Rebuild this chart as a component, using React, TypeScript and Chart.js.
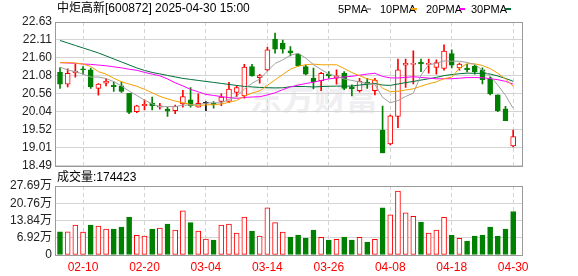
import React, { useEffect, useRef } from "react";
import { Chart, registerables } from "chart.js";

Chart.register(...registerables);

// ---------------- data ----------------
const dates = [
  "02-05", "02-06", "02-07", "02-10", "02-11", "02-12", "02-13", "02-14", "02-17", "02-18",
  "02-19", "02-20", "02-21", "02-24", "02-25", "02-26", "02-27", "02-28", "03-03", "03-04",
  "03-05", "03-06", "03-07", "03-10", "03-11", "03-12", "03-13", "03-14", "03-17", "03-18",
  "03-19", "03-20", "03-21", "03-24", "03-25", "03-26", "03-27", "03-28", "03-31", "04-01",
  "04-02", "04-03", "04-07", "04-08", "04-09", "04-10", "04-11", "04-14", "04-15", "04-16",
  "04-17", "04-18", "04-21", "04-22", "04-23", "04-24", "04-25", "04-28", "04-29", "04-30",
];

const openPrices = [
  21.18, 20.84, 21.17, 21.27, 21.25, 20.72, 20.87, 20.81, 20.79, 20.58,
  20.05, 20.22, 20.29, 20.18, 20.12, 20.08, 20.27, 20.39, 20.18, 20.29,
  20.29, 20.34, 20.34, 20.60, 20.50, 21.35, 21.03, 21.25, 22.14, 22.02,
  21.80, 21.70, 21.35, 21.01, 20.94, 21.13, 21.01, 21.16, 20.76, 20.65,
  20.90, 20.65, 19.52, 19.12, 19.91, 21.39, 21.41, 21.47, 21.41, 21.32,
  21.29, 21.72, 21.31, 21.30, 21.36, 21.25, 21.00, 20.53, 20.13, 19.06,
];
const highPrices = [
  21.32, 21.28, 21.41, 21.35, 21.30, 20.86, 21.01, 20.91, 20.91, 20.58,
  20.23, 20.39, 20.47, 20.29, 20.18, 20.24, 20.66, 20.74, 20.56, 20.34,
  20.34, 20.56, 20.89, 20.79, 21.41, 21.41, 21.12, 21.90, 22.31, 22.11,
  21.92, 21.73, 21.39, 21.30, 21.18, 21.20, 21.25, 21.20, 20.82, 21.01,
  21.01, 21.01, 20.21, 19.95, 21.56, 21.56, 21.80, 21.56, 21.56, 21.54,
  21.97, 21.83, 21.45, 21.41, 21.39, 21.31, 21.05, 20.53, 20.20, 19.52,
];
const lowPrices = [
  20.72, 20.76, 21.04, 21.13, 20.72, 20.52, 20.79, 20.63, 20.60, 19.99,
  20.02, 20.10, 20.10, 20.12, 19.91, 19.99, 20.18, 20.18, 20.18, 20.08,
  20.15, 20.22, 20.31, 20.47, 20.44, 21.07, 20.87, 21.22, 21.73, 21.73,
  21.65, 21.35, 21.11, 20.70, 20.65, 21.01, 20.84, 20.68, 20.50, 20.61,
  20.72, 20.53, 18.86, 19.09, 19.59, 20.75, 20.85, 21.20, 21.16, 21.13,
  21.24, 21.31, 21.24, 21.19, 21.13, 20.85, 20.53, 20.05, 19.79, 19.03,
];
const closePrices = [
  20.84, 21.15, 21.22, 21.25, 20.77, 20.84, 20.93, 20.77, 20.63, 20.03,
  20.22, 20.26, 20.22, 20.22, 20.06, 20.20, 20.48, 20.22, 20.29, 20.29,
  20.25, 20.47, 20.70, 20.74, 21.33, 21.08, 21.09, 21.83, 21.85, 21.85,
  21.75, 21.37, 21.13, 20.91, 21.15, 21.08, 21.08, 20.72, 20.71, 20.93,
  20.85, 20.96, 18.86, 19.93, 21.25, 21.44, 21.44, 21.42, 21.44, 21.46,
  21.79, 21.39, 21.42, 21.26, 21.19, 20.97, 20.56, 20.08, 19.79, 19.33,
];

const ma5 = [
  21.33, 21.25, 21.2, 21.13, 21.046, 21.046, 21.002, 20.912, 20.788, 20.64,
  20.516, 20.382, 20.272, 20.19, 20.196, 20.192, 20.236, 20.236, 20.25, 20.296,
  20.306, 20.304, 20.4, 20.49, 20.698, 20.864, 20.988, 21.214, 21.436, 21.54,
  21.674, 21.73, 21.59, 21.402, 21.262, 21.128, 21.07, 20.988, 20.948, 20.904,
  20.858, 20.834, 20.46, 20.304, 20.368, 20.486, 20.582, 21.096, 21.398, 21.44,
  21.51, 21.5, 21.5, 21.464, 21.41, 21.246, 21.08, 20.812, 20.518, 20.146,
];
const ma10 = [
  21.46, 21.46, 21.45, 21.42, 21.35, 21.2, 21.13, 21.01, 20.91, 20.843,
  20.781, 20.692, 20.592, 20.489, 20.418, 20.354, 20.309, 20.254, 20.22, 20.246,
  20.249, 20.27, 20.318, 20.37, 20.497, 20.585, 20.646, 20.807, 20.963, 21.119,
  21.271, 21.357, 21.4, 21.417, 21.399, 21.397, 21.4, 21.289, 21.175, 21.083,
  20.993, 20.952, 20.724, 20.626, 20.636, 20.672, 20.708, 20.779, 20.852, 20.905,
  20.999, 21.042, 21.298, 21.431, 21.425, 21.378, 21.29, 21.156, 20.991, 20.778,
];
const ma20 = [
  21.46, 21.45, 21.44, 21.42, 21.41, 21.39, 21.37, 21.34, 21.31, 21.27,
  21.24, 21.18, 21.13, 21.08, 20.99, 20.88, 20.79, 20.69, 20.62, 20.545,
  20.515, 20.481, 20.455, 20.43, 20.458, 20.47, 20.479, 20.531, 20.591, 20.683,
  20.76, 20.814, 20.859, 20.894, 20.948, 20.992, 21.022, 21.047, 21.068, 21.1,
  21.13, 21.155, 21.063, 21.022, 21.018, 21.035, 21.055, 21.034, 21.014, 20.994,
  20.996, 20.997, 21.012, 21.029, 21.031, 21.026, 21.0, 20.968, 20.922, 20.842,
];
const ma30 = [
  22.098, 22.026, 21.954, 21.883, 21.811, 21.739, 21.653, 21.566, 21.48, 21.394,
  21.308, 21.236, 21.178, 21.135, 21.092, 21.049, 21.006, 20.977, 20.948, 20.919,
  20.891, 20.862, 20.833, 20.804, 20.776, 20.761, 20.747, 20.738, 20.733, 20.736,
  20.767, 20.773, 20.77, 20.759, 20.771, 20.779, 20.784, 20.783, 20.785, 20.815,
  20.836, 20.86, 20.814, 20.805, 20.844, 20.886, 20.918, 20.958, 20.996, 21.035,
  21.086, 21.117, 21.141, 21.158, 21.154, 21.149, 21.133, 21.075, 21.006, 20.922,
];

// volume in lots (手)
const volumes = [
  93000, 93000, 120000, 92000, 120000, 116000, 104000, 104000, 112000, 152000,
  79000, 76000, 104000, 108000, 124000, 100000, 177000, 130000, 96000, 64000,
  60000, 120000, 124000, 88000, 152000, 96000, 76000, 189000, 130000, 92000,
  72000, 80000, 68000, 100000, 71000, 60000, 63000, 72000, 60000, 71000,
  52000, 63000, 189000, 161000, 257000, 169000, 155000, 132000, 88000, 100000,
  151000, 80000, 67000, 56000, 76000, 80000, 112000, 76000, 104000, 174423,
];
// volume bar direction as drawn: "u" = red hollow, "d" = green filled
const volumeDir = [
  "d", "u", "u", "u", "d", "u", "u", "d", "d", "d",
  "u", "u", "d", "u", "d", "u", "u", "d", "u", "u",
  "d", "u", "u", "u", "u", "d", "u", "u", "u", "u",
  "d", "d", "d", "d", "u", "d", "u", "d", "d", "u",
  "d", "u", "d", "u", "u", "u", "u", "d", "u", "u",
  "u", "d", "u", "d", "d", "d", "d", "d", "d", "d",
];

const xTickLabels = ["02-10", "02-20", "03-04", "03-14", "03-26", "04-08", "04-18", "04-30"];
const priceTickLabels = ["18.49", "19.01", "19.52", "20.04", "20.56", "21.08", "21.60", "22.11", "22.63"];
const volumeTickLabels = ["0", "6.92万", "13.84万", "20.76万", "27.69万"];

const titleText = "中炬高新[600872] 2025-04-30 15:00";
const volumeTitle = "成交量:174423";
const legendItems = ["5PMA", "10PMA", "20PMA", "30PMA"];

// ---------------- styles ----------------
const RED = "#ff0000";
const GREEN = "#008000";
const BLACK = "#000000";
const MA_COLORS = ["#a0a0a0", "#f5a000", "#ff00ff", "#00703a"];
const GRID = "#d4d4d4";
const FRAME = "#9a9a9a";
const FONT = "'Liberation Sans', 'Noto Sans CJK SC', sans-serif";

const PRICE_MIN = 18.49;
const PRICE_MAX = 22.63;
const PRICE_STEP = (PRICE_MAX - PRICE_MIN) / (priceTickLabels.length - 1);
const VOL_MAX = 276900;
const VOL_STEP = VOL_MAX / (volumeTickLabels.length - 1);

const idx = dates.map((_, i) => i);
const xTickIdx = xTickLabels.map((l) => dates.indexOf(l));

function candleColor(i: number) {
  if (closePrices[i] > openPrices[i]) return RED;
  if (closePrices[i] < openPrices[i]) return GREEN;
  return BLACK;
}

const framePlugin = {
  id: "frame",
  beforeDatasetsDraw(chart: any) {
    const { ctx, chartArea: a } = chart;
    ctx.save();
    ctx.strokeStyle = FRAME;
    ctx.lineWidth = 1;
    ctx.strokeRect(Math.round(a.left) + 0.5, Math.round(a.top) + 0.5, Math.round(a.right - a.left), Math.round(a.bottom - a.top));
    ctx.restore();
  },
};

function xScale(showLabels: boolean) {
  return {
    type: "linear",
    min: -0.65,
    max: 60.15,
    offset: false,
    afterBuildTicks: (s: any) => {
      s.ticks = xTickIdx.map((v) => ({ value: v }));
    },
    afterFit: (s: any) => {
      s.height = showLabels ? 21 : 0;
    },
    ticks: {
      display: showLabels,
      autoSkip: false,
      maxRotation: 0,
      padding: 5,
      color: RED,
      font: { family: FONT, size: 12 },
      callback: (v: any) => dates[v] ?? "",
    },
    grid: { color: GRID, drawTicks: false, offset: false, lineWidth: 1 },
    border: { display: false, dash: [4, 3] },
  };
}

function yScale(min: number, max: number, step: number, labels: string[]) {
  return {
    type: "linear",
    min,
    max,
    afterBuildTicks: (s: any) => {
      s.ticks = labels.map((_, k) => ({ value: min + k * step }));
    },
    afterFit: (s: any) => {
      s.width = 55;
    },
    ticks: {
      autoSkip: false,
      padding: 3,
      color: "#222",
      font: { family: FONT, size: 12 },
      callback: (_v: any, i: number) => labels[i],
    },
    grid: { color: GRID, drawTicks: false, lineWidth: 1 },
    border: { display: false },
  };
}

function mainConfig(): any {
  const maSets = [ma5, ma10, ma20, ma30].map((arr, k) => ({
    type: "line",
    label: legendItems[k],
    data: idx.map((i) => ({ x: i, y: arr[i] })),
    borderColor: MA_COLORS[k],
    borderWidth: 1,
    pointRadius: 0,
    tension: 0,
    order: 0,
  }));
  return {
    type: "bar",
    data: {
      datasets: [
        ...maSets,
        {
          type: "bar",
          label: "body",
          data: idx.map((i) => ({ x: i, y: [openPrices[i], closePrices[i]] })),
          backgroundColor: idx.map((i) => (closePrices[i] > openPrices[i] ? "#ffffff" : candleColor(i))),
          borderColor: idx.map((i) => candleColor(i)),
          borderWidth: 1,
          borderSkipped: false,
          barThickness: 5,
          minBarLength: 1,
          grouped: false,
          order: 1,
        },
        {
          type: "bar",
          label: "wick",
          data: idx.map((i) => ({ x: i, y: [lowPrices[i], highPrices[i]] })),
          backgroundColor: idx.map((i) => candleColor(i)),
          borderWidth: 0,
          barThickness: 1,
          grouped: false,
          order: 2,
        },
      ],
    },
    options: {
      responsive: false,
      animation: false,
      events: [],
      layout: { padding: { left: 0, top: 22, right: 56, bottom: 10 } },
      plugins: { legend: { display: false }, tooltip: { enabled: false }, title: { display: false } },
      scales: {
        x: xScale(false),
        y: yScale(PRICE_MIN, PRICE_MAX, PRICE_STEP, priceTickLabels),
      },
    },
    plugins: [framePlugin],
  };
}

function volumeConfig(): any {
  return {
    type: "bar",
    data: {
      datasets: [
        {
          label: "成交量",
          data: idx.map((i) => ({ x: i, y: volumes[i] })),
          backgroundColor: idx.map((i) => (volumeDir[i] === "u" ? "#ffffff" : GREEN)),
          borderColor: idx.map((i) => (volumeDir[i] === "u" ? RED : GREEN)),
          borderWidth: 1,
          borderSkipped: false,
          barThickness: 5,
          grouped: false,
        },
      ],
    },
    options: {
      responsive: false,
      animation: false,
      events: [],
      layout: { padding: { left: 0, top: 16, right: 56, bottom: 0 } },
      plugins: { legend: { display: false }, tooltip: { enabled: false } },
      scales: {
        x: xScale(true),
        y: yScale(0, VOL_MAX, VOL_STEP, volumeTickLabels),
      },
    },
    plugins: [framePlugin],
  };
}

const legendPos = [
  { text: 338, dash: 365 },
  { text: 380, dash: 411 },
  { text: 426, dash: 459 },
  { text: 471, dash: 505 },
];

export default function App() {
  const mainRef = useRef<HTMLCanvasElement>(null);
  const volRef = useRef<HTMLCanvasElement>(null);

  useEffect(() => {
    const c1 = new Chart(mainRef.current as HTMLCanvasElement, mainConfig());
    const c2 = new Chart(volRef.current as HTMLCanvasElement, volumeConfig());
    return () => {
      c1.destroy();
      c2.destroy();
    };
  }, []);

  const textBase: React.CSSProperties = {
    position: "absolute",
    fontFamily: FONT,
    fontSize: 12,
    lineHeight: "14px",
    color: "#000",
    whiteSpace: "pre",
  };

  return (
    <div style={{ position: "absolute", left: 0, top: 0, width: 578, height: 276, background: "#fff", overflow: "hidden" }}>
      <div
        style={{
          position: "absolute",
          left: 250,
          top: 78,
          fontFamily: "'Noto Sans CJK SC', sans-serif",
          fontWeight: 700,
          fontSize: 32,
          lineHeight: "36px",
          color: "#efeff1",
          whiteSpace: "pre",
        }}
      >
        东方财富
      </div>
      <canvas ref={mainRef} width={578} height={176} style={{ position: "absolute", left: 0, top: 0 }} />
      <canvas ref={volRef} width={578} height={106} style={{ position: "absolute", left: 0, top: 170 }} />
      <div style={{ ...textBase, left: 57, top: 1 }}>{titleText}</div>
      {legendItems.map((t, k) => (
        <React.Fragment key={t}>
          <div style={{ ...textBase, left: legendPos[k].text, top: 2, fontSize: 11 }}>{t}</div>
          <div
            style={{
              position: "absolute",
              left: legendPos[k].dash,
              top: 8,
              width: 6,
              height: 2,
              background: MA_COLORS[k],
            }}
          />
        </React.Fragment>
      ))}
      <div style={{ ...textBase, left: 57, top: 170 }}>{volumeTitle}</div>
    </div>
  );
}
